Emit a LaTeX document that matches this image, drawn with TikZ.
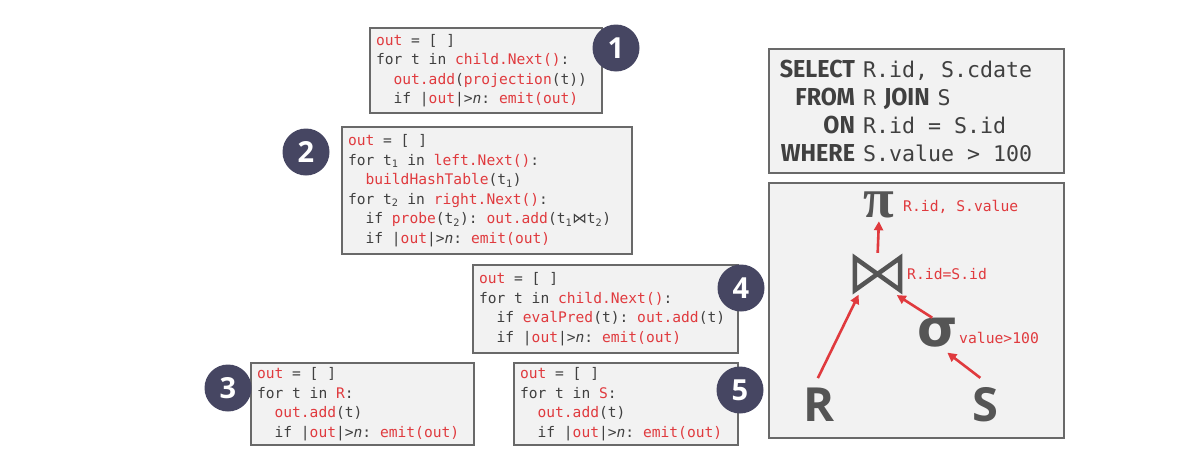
\documentclass[tikz,border=0pt]{standalone}
\usepackage{fontspec}
\usetikzlibrary{arrows.meta}
\newfontfamily\codefont{DejaVu Sans Mono}
\newfontfamily\kwfont[FakeStretch=0.95]{Fira Sans}
\newfontfamily\numfam{Open Sans}
\newfontfamily\symsans{DejaVu Sans}
\newfontfamily\symserif{Liberation Serif}
\definecolor{codered}{RGB}{224,58,62}
\definecolor{codegray}{RGB}{64,64,64}
\definecolor{boxfill}{RGB}{242,242,242}
\definecolor{boxborder}{RGB}{105,105,105}
\definecolor{circfill}{RGB}{70,70,98}
\definecolor{symgray}{RGB}{85,85,85}
\newcommand{\rd}[1]{\textcolor{codered}{#1}}
\newcommand{\spc}{\hspace*{\fontcharwd\font`x}}
\newcommand{\ind}{\spc\spc}
\newcommand{\sbs}[1]{\textsubscript{#1}}
\newcommand{\nn}{\textit{n}}
\newcommand{\kw}[1]{{\kwfont\bfseries\fontsize{24.5}{24.5}\selectfont #1}}
\tikzset{
  codebox/.style={draw=boxborder, line width=2pt, fill=boxfill, anchor=north west,
    inner xsep=6pt, inner ysep=0pt, align=left, text=codegray,
    font=\codefont\fontsize{14.6}{19.5}\selectfont},
  numcirc/.style={circle, fill=circfill, text=white, minimum size=47pt, inner sep=0pt,
    font=\numfam\bfseries\fontsize{29}{29}\selectfont},
  sym/.style={inner sep=0pt, text=symgray},
  lbl/.style={anchor=west, inner sep=0pt, text=codered, font=\codefont\fontsize{14.7}{16}\selectfont},
  arr/.style={draw=codered, line width=2.6pt, -{Triangle[length=9pt,width=9pt]}},
}
\begin{document}
\begin{tikzpicture}[x=1pt,y=-1pt]
\useasboundingbox (0,0) rectangle (1178,458);

% code boxes
\node[codebox, text width=220pt, minimum height=85pt] (b1) at (369,27) {%
\rd{out}\spc=\spc[\spc]\\
for\spc t\spc in\spc\rd{child.Next()}:\\
\ind\rd{out.add}(\rd{projection}(t))\\
\ind if\spc|\rd{out}|>\nn:\spc\rd{emit(out)}};

\node[codebox, text width=278pt, minimum height=127pt] (b2) at (341,126) {%
\rd{out}\spc=\spc[\spc]\\
for\spc t\sbs{1}\spc in\spc\rd{left.Next()}:\\
\ind\rd{buildHashTable}(t\sbs{1})\\
for\spc t\sbs{2}\spc in\spc\rd{right.Next()}:\\
\ind if\spc\rd{probe}(t\sbs{2}):\spc\rd{out.add}(t\sbs{1}{\symsans ⋈}t\sbs{2})\\
\ind if\spc|\rd{out}|>\nn:\spc\rd{emit(out)}};

\node[codebox, text width=253pt, minimum height=88pt] (b4) at (472,264) {%
\rd{out}\spc=\spc[\spc]\\
for\spc t\spc in\spc\rd{child.Next()}:\\
\ind if\spc\rd{evalPred}(t):\spc\rd{out.add}(t)\\
\ind if\spc|\rd{out}|>\nn:\spc\rd{emit(out)}};

\node[codebox, text width=211pt, minimum height=82pt] (b3) at (250,362) {%
\rd{out}\spc=\spc[\spc]\\
for\spc t\spc in\spc\rd{R}:\\
\ind\rd{out.add}(t)\\
\ind if\spc|\rd{out}|>\nn:\spc\rd{emit(out)}};

\node[codebox, text width=212pt, minimum height=82pt] (b5) at (513,362) {%
\rd{out}\spc=\spc[\spc]\\
for\spc t\spc in\spc\rd{S}:\\
\ind\rd{out.add}(t)\\
\ind if\spc|\rd{out}|>\nn:\spc\rd{emit(out)}};

% numbered circles
\node[numcirc] (c1) at (616,48) {1};
\node[numcirc] (c2) at (306,152) {2};
\node[numcirc] (c4) at (741,288) {4};
\node[numcirc] (c3) at (228,388) {3};
\node[numcirc] (c5) at (740,390) {5};

% SQL box
\node[codebox, text width=283pt, minimum height=124pt, text=codegray,
  font=\codefont\fontsize{21.6}{28.3}\selectfont] (sql) at (768,48) {%
\makebox[80pt][r]{\kw{SELECT}}\hspace{8pt}R.id,\spc S.cdate\\
\makebox[80pt][r]{\kw{FROM}}\hspace{8pt}R\hspace{8pt}\kw{JOIN}\hspace{8pt}S\\
\makebox[80pt][r]{\kw{ON}}\hspace{8pt}R.id\spc=\spc S.id\\
\makebox[80pt][r]{\kw{WHERE}}\hspace{8pt}S.value\spc>\spc 100};

% tree box
\node[codebox, minimum width=295pt, minimum height=255pt] (tree) at (768,182) {};

\node[sym, font=\symserif\bfseries\fontsize{56}{56}\selectfont] (pi) at (879,205) {π};
\node[lbl] (lpi) at (903,207) {R.id,\spc S.value};

\node[sym, minimum width=45pt, minimum height=32pt] (join) at (877.5,274) {};
\draw[symgray, line width=4.5pt, line join=miter]
  (join.north west) -- (join.south west) -- (join.north east) -- (join.south east) -- cycle;
\node[lbl] (ljoin) at (907,274) {R.id=S.id};

\node[sym, font=\symsans\bfseries\fontsize{52}{52}\selectfont] (sigma) at (938,333) {σ};
\node[lbl] (lsig) at (959,338) {value>100};

\node[sym, font=\numfam\bfseries\fontsize{47}{47}\selectfont] (R) at (819,405) {R};
\node[sym, font=\numfam\bfseries\fontsize{47}{47}\selectfont] (S) at (985,405) {S};

% arrows
\draw[arr, shorten <=5pt, shorten >=3pt] (join.north) -- (pi.south);
\draw[arr, shorten <=11pt, shorten >=5pt] ([xshift=-6pt]R.north) -- ([xshift=6pt]join.south west);
\draw[arr, shorten <=1pt, shorten >=9pt] ([xshift=-5pt]sigma.north) -- ([xshift=-11pt]join.south east);
\draw[arr, shorten <=16pt, shorten >=8pt] ([xshift=8pt]S.north) -- ([xshift=3pt]sigma.south);
\end{tikzpicture}
\end{document}
